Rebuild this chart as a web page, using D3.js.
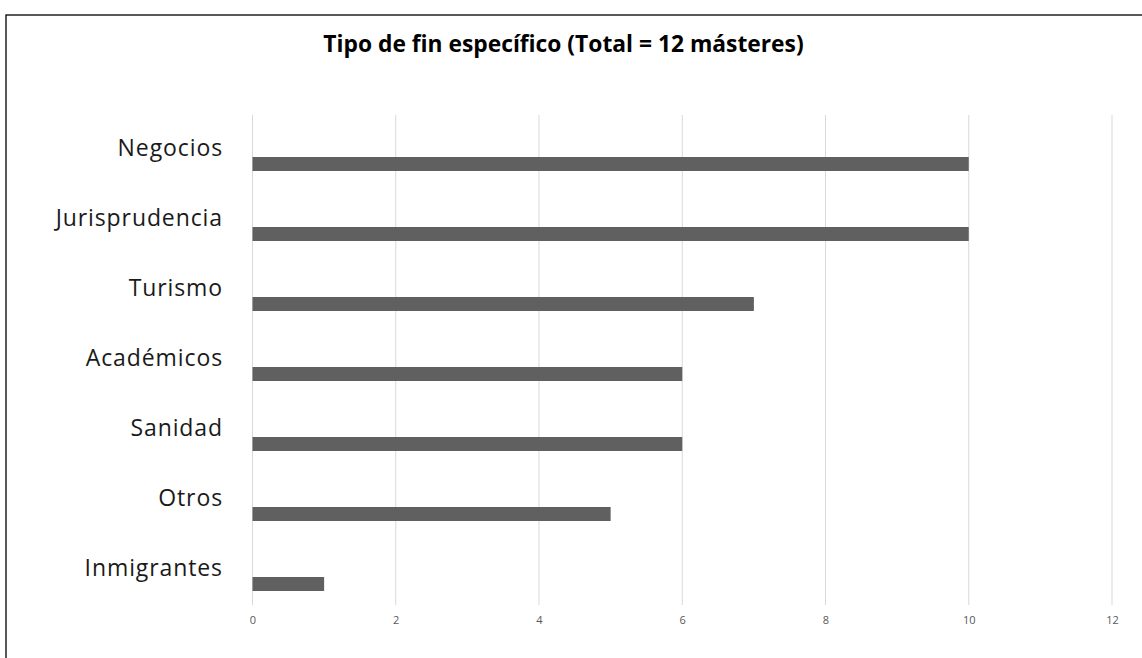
<!DOCTYPE html>
<html><head><meta charset="utf-8">
<script src="https://cdn.jsdelivr.net/npm/d3@7"></script>
<style>body{margin:0;background:#fff}svg{display:block}</style>
</head><body>
<script>
const categories = ["Negocios","Jurisprudencia","Turismo","Académicos","Sanidad","Otros","Inmigrantes"];
const values = [10,10,7,6,6,5,1];
const xTicks = [0,2,4,6,8,10,12];
const title = "Tipo de fin específico (Total = 12 másteres)";

const W = 1142, H = 658;
const svg = d3.select("body").append("svg").attr("width", W).attr("height", H);
svg.append("rect").attr("width", W).attr("height", H).attr("fill", "#fff");
svg.append("rect").attr("x", 6).attr("y", 15).attr("width", 1300).attr("height", 1000)
  .attr("fill", "none").attr("stroke", "#000").attr("stroke-width", 1.3);

const x = d3.scaleLinear().domain([0, 12]).range([252.5, 1112]);
const y = d3.scaleBand().domain(categories).range([115, 605]).padding(0);
const step = y.step();

// gridlines
svg.append("g").selectAll("line").data(xTicks).join("line")
  .attr("x1", d => x(d)).attr("x2", d => x(d)).attr("y1", 115).attr("y2", 605)
  .attr("stroke", "#d9d9d9").attr("stroke-width", 1);

// x axis labels
const xAxis = d3.axisBottom(x).tickValues(xTicks).tickSize(0).tickPadding(0);
const gx = svg.append("g").attr("transform", "translate(0,616)").call(xAxis);
gx.select(".domain").remove();
gx.selectAll("text").attr("font-family", "'Open Sans', sans-serif")
  .attr("font-size", 11).attr("fill", "#595959").attr("dy", "0.35em").attr("y", 4.5);

// bars
svg.append("g").selectAll("rect").data(categories).join("rect")
  .attr("x", x(0)).attr("y", d => y(d) + step * 0.6)
  .attr("width", (d, i) => x(values[i]) - x(0)).attr("height", step * 0.2)
  .attr("fill", "#606060");

// category labels
svg.append("g").selectAll("text").data(categories).join("text")
  .attr("x", 223).attr("y", d => y(d) + step * 0.586)
  .attr("text-anchor", "end").attr("font-family", "'Open Sans', sans-serif")
  .attr("font-size", 23).attr("letter-spacing", 0.9).attr("fill", "#1a1a1a").text(d => d);

// title
svg.append("text").attr("x", 563.5).attr("y", 52).attr("text-anchor", "middle")
  .attr("font-family", "'Open Sans', sans-serif").attr("font-weight", "bold")
  .attr("font-size", 22.8).attr("fill", "#000").text(title);
</script>
</body></html>
